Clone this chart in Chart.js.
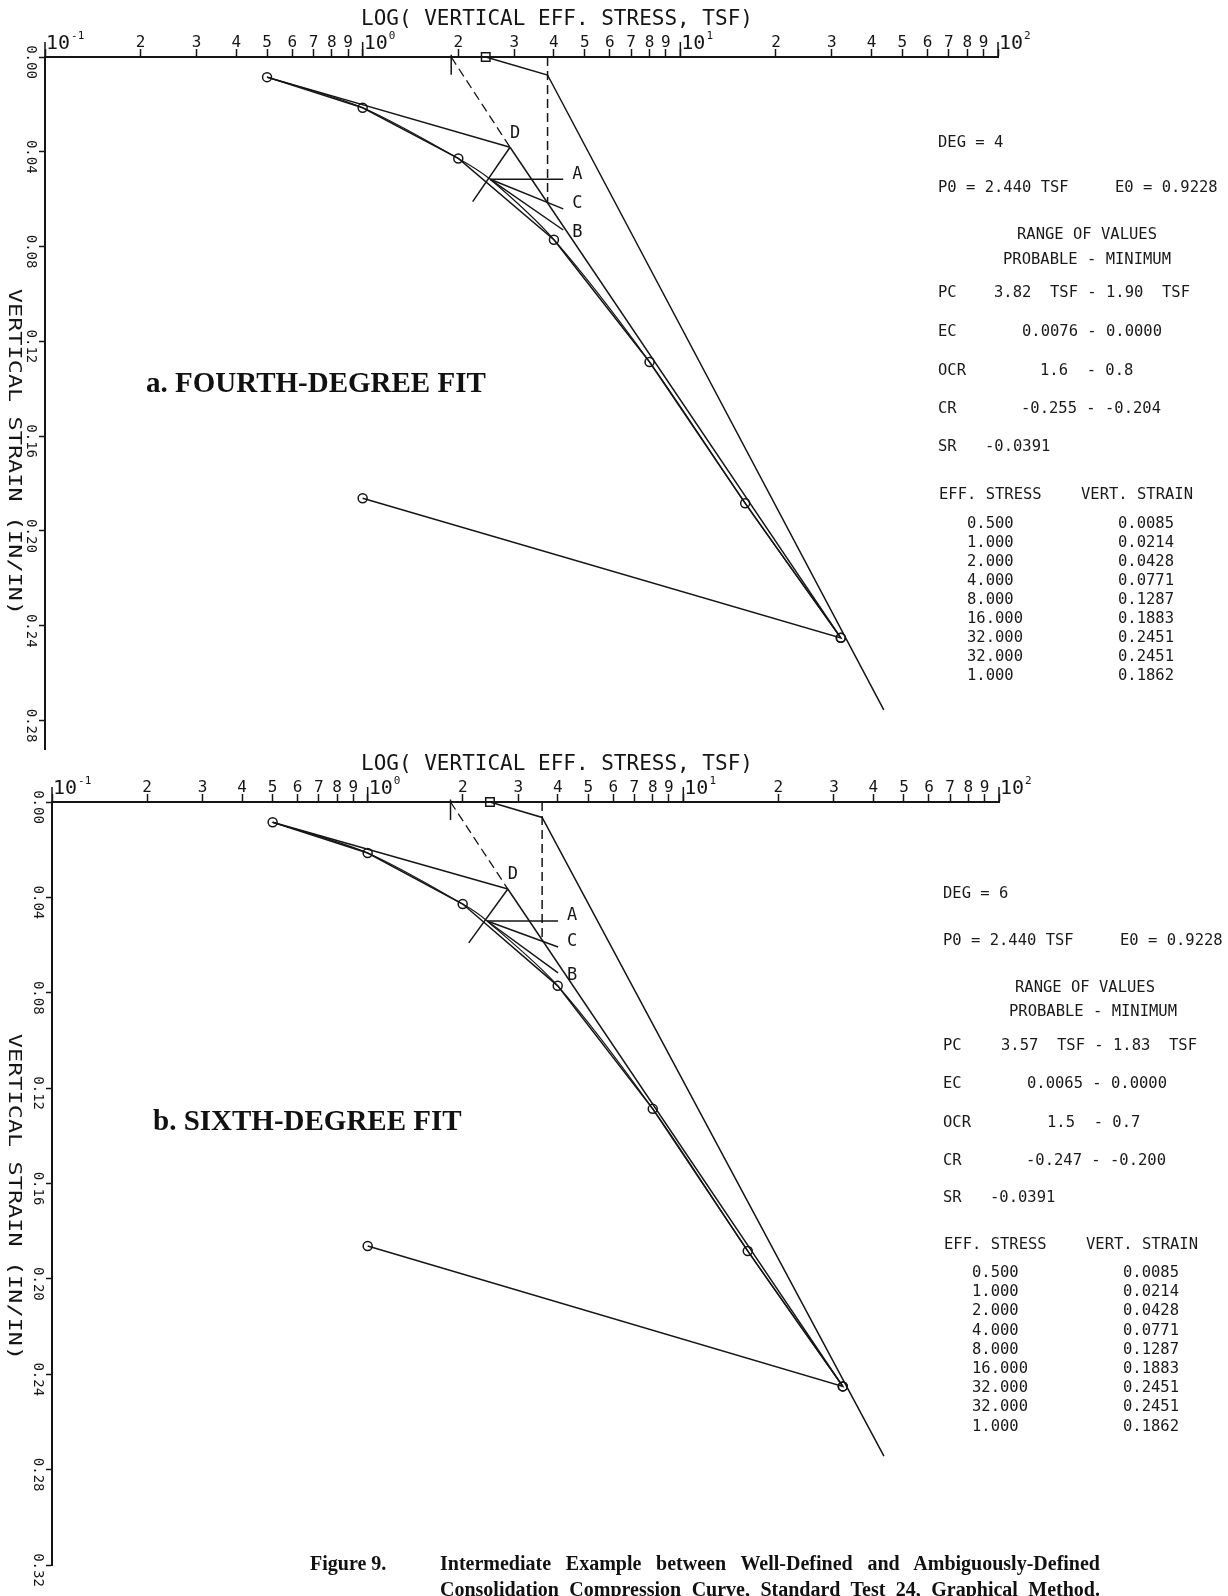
<!DOCTYPE html>
<html>
<head>
<meta charset="utf-8">
<script src="https://cdn.jsdelivr.net/npm/chart.js@4.4.0/dist/chart.umd.min.js"></script>
<style>
  html, body { margin: 0; padding: 0; background: #fff; }
  #page { position: relative; width: 1228px; height: 1596px; overflow: hidden; background: #fff; }
  canvas { position: absolute; left: 0; }
  .t { position: absolute; white-space: pre; font-family: "DejaVu Sans Mono", monospace; font-size: 15.5px;
       line-height: 1; color: #1a1a1a; transform: translateY(-50%); }
  .panel { position: absolute; white-space: pre; font-family: "Liberation Serif", serif; font-weight: bold;
           font-size: 29px; line-height: 1; color: #111; transform: translateY(-50%); }
  .cap { position: absolute; white-space: nowrap; font-family: "Liberation Serif", serif; font-weight: bold;
         font-size: 20px; line-height: 1; color: #111; transform: translateY(-50%); }
  .just { width: 660px; text-align: justify; text-align-last: justify; }
</style>
</head>
<body>
<div id="page">
  <canvas id="chartA" width="1228" height="760" style="top:0"></canvas>
  <canvas id="chartB" width="1228" height="851" style="top:745px"></canvas>
</div>
<script>
// test data (same for both fits)
const effStress  = [0.5, 1, 2, 4, 8, 16, 32, 32, 1];
const vertStrain = [0.0085, 0.0214, 0.0428, 0.0771, 0.1287, 0.1883, 0.2451, 0.2451, 0.1862];

// axis ticks
const xTickValues = [0.1, 0.2, 0.3, 0.4, 0.5, 0.6, 0.7, 0.8, 0.9,
                     1, 2, 3, 4, 5, 6, 7, 8, 9,
                     10, 20, 30, 40, 50, 60, 70, 80, 90, 100];
const xTickLabels = ['10^-1', '2', '3', '4', '5', '6', '7', '8', '9',
                     '10^0', '2', '3', '4', '5', '6', '7', '8', '9',
                     '10^1', '2', '3', '4', '5', '6', '7', '8', '9', '10^2'];
const yTicksA = [0, 0.04, 0.08, 0.12, 0.16, 0.20, 0.24, 0.28];
const yTicksB = [0, 0.04, 0.08, 0.12, 0.16, 0.20, 0.24, 0.28, 0.32];

// a. fourth-degree fit
const fitStressA = [0.5, 1, 2, 2.52, 4, 8, 16, 32];
const fitStrainA = [0.0085, 0.0214, 0.0428, 0.0516, 0.0771, 0.1287, 0.1883, 0.2451];
const dPointA    = [2.91, 0.0381];
const maxCurvA   = [2.52, 0.0516];
const horizEndA  = [4.28, 0.0516];
const bisectEndA = [4.28, 0.0641];
const tangEndA   = [4.28, 0.0730];
const crossA     = [2.22, 0.0610];
const pcA        = [3.82, 1.90];        // probable, minimum
const pcDashEndA = 0.0616;
const fieldStressA = [2.44, 3.82, 43.7];
const fieldStrainA = [0, 0.0076, 0.2755];

// b. sixth-degree fit
const fitStressB = [0.5, 1, 2, 2.39, 4, 8, 16, 32];
const fitStrainB = [0.0085, 0.0214, 0.0428, 0.0499, 0.0771, 0.1287, 0.1883, 0.2451];
const dPointB    = [2.78, 0.0365];
const maxCurvB   = [2.39, 0.0499];
const horizEndB  = [4.01, 0.0499];
const bisectEndB = [4.01, 0.0608];
const tangEndB   = [4.01, 0.0717];
const crossB     = [2.09, 0.0591];
const pcB        = [3.57, 1.83];
const pcDashEndB = 0.0578;
const fieldStressB = [2.44, 3.57, 43.2];
const fieldStrainB = [0, 0.0065, 0.2743];

// printed summary values
const ecA  = ['0.0076', '0.0000'];
const ocrA = ['1.6', '0.8'];
const crA  = ['-0.255', '-0.204'];
const ecB  = ['0.0065', '0.0000'];
const ocrB = ['1.5', '0.7'];
const crB  = ['-0.247', '-0.200'];

const ink = '#151515';
const mono = '"DejaVu Sans Mono", monospace';

function seg(xs, ys) { return xs.map((v, i) => ({ x: v, y: ys[i] })); }
function pt(p) { return { x: p[0], y: p[1] }; }
function lineSet(data, extra) {
  return Object.assign({
    data: data, showLine: true, borderColor: ink, borderWidth: 1.5,
    pointRadius: 0, pointHoverRadius: 0, fill: false, clip: false
  }, extra || {});
}

// draws plotter-style texts through the chart scales
const plotterText = {
  id: 'plotterText',
  afterDraw(chart, args, opts) {
    const ctx = chart.ctx, xs = chart.scales.x, ys = chart.scales.y, area = chart.chartArea;
    ctx.save();
    ctx.fillStyle = ink;
    ctx.strokeStyle = ink;

    // x tick labels
    ctx.textBaseline = 'alphabetic';
    xTickValues.forEach((v, i) => {
      const px = xs.getPixelForValue(v);
      const lab = xTickLabels[i];
      if (lab.indexOf('^') > 0) {
        const parts = lab.split('^');
        ctx.lineWidth = 1.5;
        ctx.beginPath(); ctx.moveTo(px, area.top); ctx.lineTo(px, area.top - 15); ctx.stroke();
        ctx.font = '20px ' + mono; ctx.textAlign = 'left';
        ctx.fillText(parts[0], px + 1, area.top - 8);
        const w = ctx.measureText(parts[0]).width;
        ctx.font = '11px ' + mono;
        ctx.fillText(parts[1], px + 2 + w, area.top - 18);
      } else {
        ctx.font = '16px ' + mono; ctx.textAlign = 'center';
        ctx.fillText(lab, px, area.top - 10);
      }
    });

    // x title
    ctx.font = '21px ' + mono; ctx.textAlign = 'left'; ctx.textBaseline = 'middle';
    ctx.fillText('LOG( VERTICAL EFF. STRESS, TSF)', 361, area.top - 37);

    // y tick labels, rotated clockwise
    ctx.font = '14px ' + mono; ctx.textAlign = 'center';
    opts.yTicks.forEach(v => {
      const py = ys.getPixelForValue(v);
      ctx.save();
      ctx.translate(area.left - 14, py + 5);
      ctx.rotate(Math.PI / 2);
      ctx.fillText(v.toFixed(2), 0, 0);
      ctx.restore();
    });

    // y title, narrow plotter letters stretched along the axis
    ctx.save();
    ctx.font = '18px ' + mono;
    ctx.translate(14, area.top + 395);
    ctx.rotate(Math.PI / 2);
    ctx.scale(1.31, 1);
    ctx.fillText('VERTICAL STRAIN (IN/IN)', 0, 0);
    ctx.restore();

    // construction letters
    ctx.font = '17px ' + mono; ctx.textAlign = 'left'; ctx.textBaseline = 'middle';
    opts.letters.forEach(l => {
      ctx.fillText(l.t, xs.getPixelForValue(l.at[0]) + l.dx, ys.getPixelForValue(l.at[1]) + l.dy);
    });
    ctx.restore();
  }
};

function makeChart(id, p) {
  const dash = [9, 5];
  const first = [effStress[0], vertStrain[0]];
  const last = [effStress[6], vertStrain[6]];
  return new Chart(document.getElementById(id), {
    type: 'scatter',
    data: {
      datasets: [
        lineSet(seg(effStress, vertStrain), {
          pointRadius: 4.5, pointBorderWidth: 1.5, pointStyle: 'circle',
          pointBorderColor: ink, pointBackgroundColor: 'rgba(0,0,0,0)'
        }),
        lineSet(seg(p.fitStress, p.fitStrain), { tension: 0.3, borderWidth: 1.2 }),
        lineSet([pt(first), pt(p.d)]),
        lineSet([pt(p.d), pt(last)]),
        lineSet([pt(p.cross), pt(p.d)]),
        lineSet([pt(p.maxCurv), pt(p.horizEnd)]),
        lineSet([pt(p.maxCurv), pt(p.bisectEnd)]),
        lineSet([pt(p.maxCurv), pt(p.tangEnd)]),
        lineSet([{ x: p.pc[0], y: 0 }, { x: p.pc[0], y: p.pcDashEnd }], { borderDash: dash }),
        lineSet([{ x: p.pc[1], y: 0 }, pt(p.d)], { borderDash: dash, borderWidth: 1.3 }),
        lineSet([{ x: p.pc[1], y: -0.001 }, { x: p.pc[1], y: 0.0075 }]),
        lineSet(seg(p.fieldStress, p.fieldStrain), {
          pointRadius: [6, 0, 0], pointStyle: 'rect', pointBorderWidth: 1.5,
          pointBorderColor: ink, pointBackgroundColor: 'rgba(0,0,0,0)'
        })
      ]
    },
    options: {
      responsive: false,
      animation: false,
      devicePixelRatio: 1,
      layout: { padding: { left: 0, top: 0, right: p.padRight, bottom: p.padBottom } },
      plugins: {
        legend: { display: false },
        tooltip: { enabled: false },
        plotterText: {
          yTicks: p.yTicks,
          letters: [
            { t: 'D', at: p.d, dx: 0, dy: -14 },
            { t: 'A', at: p.horizEnd, dx: 9, dy: -5 },
            { t: 'C', at: p.bisectEnd, dx: 9, dy: -5 },
            { t: 'B', at: p.tangEnd, dx: 9, dy: 3 }
          ]
        }
      },
      scales: {
        x: {
          type: 'logarithmic', position: 'top', min: 0.1, max: 100,
          afterBuildTicks: s => { s.ticks = xTickValues.map(v => ({ value: v })); },
          afterFit: s => { s.height = p.top; },
          ticks: { display: false },
          grid: { drawOnChartArea: false, drawTicks: true, tickLength: 8, tickColor: ink, tickWidth: 1.5 },
          border: { display: true, color: ink, width: 2 }
        },
        y: {
          type: 'linear', position: 'left', reverse: true, min: 0, max: p.yMax,
          afterBuildTicks: s => { s.ticks = p.yTicks.map(v => ({ value: v })); },
          afterFit: s => { s.width = p.left; },
          ticks: { display: false },
          grid: { drawOnChartArea: false, drawTicks: true, tickLength: 6, tickColor: ink, tickWidth: 1.5 },
          border: { display: true, color: ink, width: 2 }
        }
      }
    },
    plugins: [plotterText]
  });
}

makeChart('chartA', {
  fitStress: fitStressA, fitStrain: fitStrainA, d: dPointA, maxCurv: maxCurvA,
  horizEnd: horizEndA, bisectEnd: bisectEndA, tangEnd: tangEndA, cross: crossA,
  pc: pcA, pcDashEnd: pcDashEndA, fieldStress: fieldStressA, fieldStrain: fieldStrainA,
  yTicks: yTicksA, yMax: 0.292, top: 57, left: 45, padRight: 230, padBottom: 11
});
makeChart('chartB', {
  fitStress: fitStressB, fitStrain: fitStrainB, d: dPointB, maxCurv: maxCurvB,
  horizEnd: horizEndB, bisectEnd: bisectEndB, tangEnd: tangEndB, cross: crossB,
  pc: pcB, pcDashEnd: pcDashEndB, fieldStress: fieldStressB, fieldStrain: fieldStrainB,
  yTicks: yTicksB, yMax: 0.32, top: 57, left: 52, padRight: 229, padBottom: 31
});

// side tables and captions
const page = document.getElementById('page');
function put(x, y, str, cls) {
  const d = document.createElement('div');
  d.className = cls || 't';
  d.textContent = str;
  d.style.left = x + 'px';
  d.style.top = y + 'px';
  page.appendChild(d);
  return d;
}

function table(deg, pc, ec, ocr, cr, x0, Y, dx, rowY, rowStep) {
  put(x0, Y[0], 'DEG = ' + deg);
  put(x0, Y[1], 'P0 = 2.440 TSF');
  put(x0 + 177, Y[1], 'E0 = 0.9228');
  put(x0 + 79 + dx[0], Y[2], 'RANGE OF VALUES');
  put(x0 + 65 + dx[1], Y[3], 'PROBABLE - MINIMUM');
  put(x0, Y[4], 'PC');
  put(x0 + 56 + dx[2], Y[4], pc[0].toFixed(2) + '  TSF - ' + pc[1].toFixed(2) + '  TSF');
  put(x0, Y[5], 'EC');
  put(x0 + 84 + dx[3], Y[5], ec[0] + ' - ' + ec[1]);
  put(x0, Y[6], 'OCR');
  put(x0 + 102 + dx[4], Y[6], ocr[0] + '  - ' + ocr[1]);
  put(x0, Y[7], 'CR');
  put(x0 + 83 + dx[3], Y[7], cr[0] + ' - ' + cr[1]);
  put(x0, Y[8], 'SR');
  put(x0 + 47 + dx[3], Y[8], '-0.0391');
  put(x0 + 1, Y[9], 'EFF. STRESS');
  put(x0 + 143, Y[9], 'VERT. STRAIN');
  effStress.forEach((s, i) => {
    put(x0 + 29, rowY + i * rowStep, s.toFixed(3));
    put(x0 + 180, rowY + i * rowStep, vertStrain[i].toFixed(4));
  });
}

table(4, pcA, ecA, ocrA, crA, 938, [143, 188, 235, 260, 293, 332, 371, 409, 447, 495], [0, 0, 0, 0, 0], 524, 18.95);
table(6, pcB, ecB, ocrB, crB, 943, [894, 941, 988, 1012, 1046, 1084, 1123, 1161, 1198, 1245], [-7, 1, 2, 0, 2], 1273, 19.2);

put(146, 382, 'a. FOURTH-DEGREE FIT', 'panel');
put(153, 1120, 'b. SIXTH-DEGREE FIT', 'panel');

put(310, 1563, 'Figure 9.', 'cap');
put(440, 1563, 'Intermediate Example between Well-Defined and Ambiguously-Defined', 'cap just');
put(440, 1589, 'Consolidation Compression Curve, Standard Test 24, Graphical Method.', 'cap just');
</script>
</body>
</html>
